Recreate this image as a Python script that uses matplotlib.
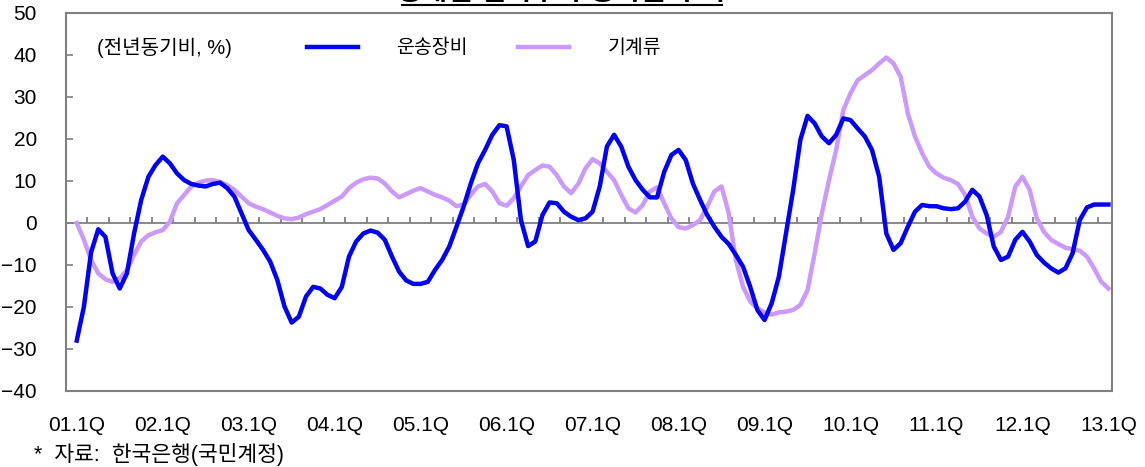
import numpy as np
import matplotlib.pyplot as plt
from matplotlib.lines import Line2D

plt.rcParams['font.family'] = ['Liberation Sans', 'Noto Sans CJK KR', 'DejaVu Sans']

# 전년동기비 증가율 (%), 2001.1Q ~ 2013.1Q, 월 간격으로 읽은 값
transport = [
    -28, -19.9, -7, -1.5, -3.3, -12, -15.6, -12, -2.5, 5.5, 11, 13.8,
    15.8, 14.2, 11.8, 10.2, 9.3, 8.9, 8.7, 9.3, 9.6, 8.3, 6.3, 2.3,
    -1.7, -4, -6.4, -9.2, -13.6, -19.9, -23.7, -22.3, -17.5, -15.2, -15.6, -17.1,
    -17.9, -15.2, -8, -4.4, -2.5, -1.8, -2.3, -4, -8, -11.6, -13.7, -14.5,
    -14.5, -14, -11.2, -8.8, -5.6, -0.9, 3.9, 9.4, 14.2, 17.4, 21, 23.3,
    23, 15, 0.7, -5.5, -4.4, 1.9, 4.9, 4.7, 2.7, 1.5, 0.7, 1.1,
    2.7, 8.7, 18.2, 21, 18.2, 13.4, 10.2, 7.9, 6.1, 6.1, 12.2, 16.2,
    17.4, 15, 9.4, 5.5, 1.9, -0.9, -3.3, -5, -7.6, -10.4, -15.2, -20.7,
    -23.1, -19.1, -12.8, -2.5, 7.9, 19.8, 25.5, 23.7, 20.6, 19, 21, 24.9,
    24.5, 22.5, 20.6, 17.4, 11, -2.5, -6.4, -4.8, -0.9, 2.7, 4.3, 4,
    4, 3.5, 3.3, 3.5, 5.1, 7.9, 6.3, 1.9, -5.6, -8.8, -8, -4,
    -2.1, -4.4, -7.6, -9.4, -10.8, -11.8, -10.8, -7.2, 0.7, 3.7, 4.4, 4.4,
    4.4,
]
machinery = [
    0, -4, -8.8, -12, -13.4, -14, -13.2, -11.2, -7.6, -4.4, -2.9, -2.2,
    -1.7, 0.3, 4.7, 6.7, 8.7, 9.6, 10.1, 10.2, 9.8, 9, 7.9, 6.3,
    4.7, 3.9, 3.3, 2.5, 1.7, 1.1, 0.9, 1.3, 2.1, 2.7, 3.3, 4.3,
    5.3, 6.3, 8.3, 9.6, 10.4, 10.8, 10.6, 9.4, 7.5, 6.1, 6.9, 7.7,
    8.3, 7.5, 6.7, 6.1, 5.3, 4, 4.4, 6.7, 8.7, 9.3, 7.5, 4.7,
    4.1, 5.9, 8.7, 11.4, 12.6, 13.7, 13.4, 11.4, 8.7, 7.1, 9.3, 13,
    15.2, 14.2, 12.2, 10.2, 6.7, 3.5, 2.5, 4.3, 7.5, 8.5, 4.7, 1.1,
    -1, -1.3, -0.5, 0.7, 3.9, 7.5, 8.7, 2.3, -8.8, -15.2, -18.7, -20.3,
    -21.3, -21.8, -21.3, -21.1, -20.7, -19.5, -16, -7.2, 2.3, 10.2, 17.4, 26.9,
    30.9, 34, 35.2, 36.4, 38, 39.4, 38, 34.8, 26.1, 20.6, 16.6, 13.4,
    11.8, 10.8, 10.2, 9.3, 6.7, 1.5, -1.3, -2.5, -3.3, -2.1, 1.5, 8.7,
    11, 7.9, 1.1, -2.1, -4, -5, -5.9, -6.2, -6.6, -8, -10.8, -14,
    -15.6,
]
year_labels = ['01.1Q', '02.1Q', '03.1Q', '04.1Q', '05.1Q', '06.1Q', '07.1Q',
               '08.1Q', '09.1Q', '10.1Q', '11.1Q', '12.1Q', '13.1Q']

months = np.arange(len(transport))
gray = '#808080'
blue = '#0000FF'
lilac = '#CC99FF'

fig = plt.figure(figsize=(11.45, 4.67), dpi=100)
ax = fig.add_axes([66 / 1145, 76 / 467, 1046 / 1145, 378 / 467])

ax.plot(months, transport, color=blue, lw=3.2, solid_joinstyle='round', zorder=3)
ax.plot(months, machinery, color=lilac, lw=3.2, solid_joinstyle='round', zorder=2)

ax.set_xlim(-1.5, len(transport) - 0.5)
ax.set_ylim(-40, 50)

# 0선과 분기 눈금
ax.axhline(0, color=gray, lw=1.3, zorder=1)
ax.vlines(np.arange(1.5, len(transport) - 1, 3), 0, 1.4, color=gray, lw=1.3, zorder=1)

ax.set_yticks(np.arange(-40, 51, 10))
ax.tick_params(axis='y', direction='in', length=5, width=1.2, color=gray,
               labelsize=15, pad=21)
ax.set_xticks(np.arange(0, len(transport), 12))
ax.set_xticklabels(year_labels)
ax.tick_params(axis='x', length=0, labelsize=15, pad=18)
for s in ax.spines.values():
    s.set_color(gray)
    s.set_linewidth(1.5)

ax.text(0.03, 0.907, '(전년동기비, %)', transform=ax.transAxes, fontsize=14.5,
        va='center', ha='left')
handles = [Line2D([], [], color=blue, lw=3.2), Line2D([], [], color=lilac, lw=3.2)]
ax.legend(handles, ['운송장비', '기계류'], ncol=2, frameon=False, fontsize=14,
          loc='center left', bbox_to_anchor=(0.2304, 0.907), borderpad=0,
          borderaxespad=0, handlelength=2.6, handletextpad=2.0, columnspacing=2.6)

# 제목 (위쪽이 잘림)
fig.text(0.49, 1 - 6 / 467, '형태별 설비투자 증가율 추이', fontsize=20, fontweight='bold',
         ha='center', va='bottom')
fig.add_artist(Line2D([402 / 1145, 722 / 1145], [1 - 4.5 / 467, 1 - 4.5 / 467],
                      color='black', lw=1.5))

fig.text(34 / 1145, 1 - 455 / 467, '*  자료:  한국은행(국민계정)', fontsize=15.5,
         va='center', ha='left')

fig.savefig('out.png', dpi=100)
